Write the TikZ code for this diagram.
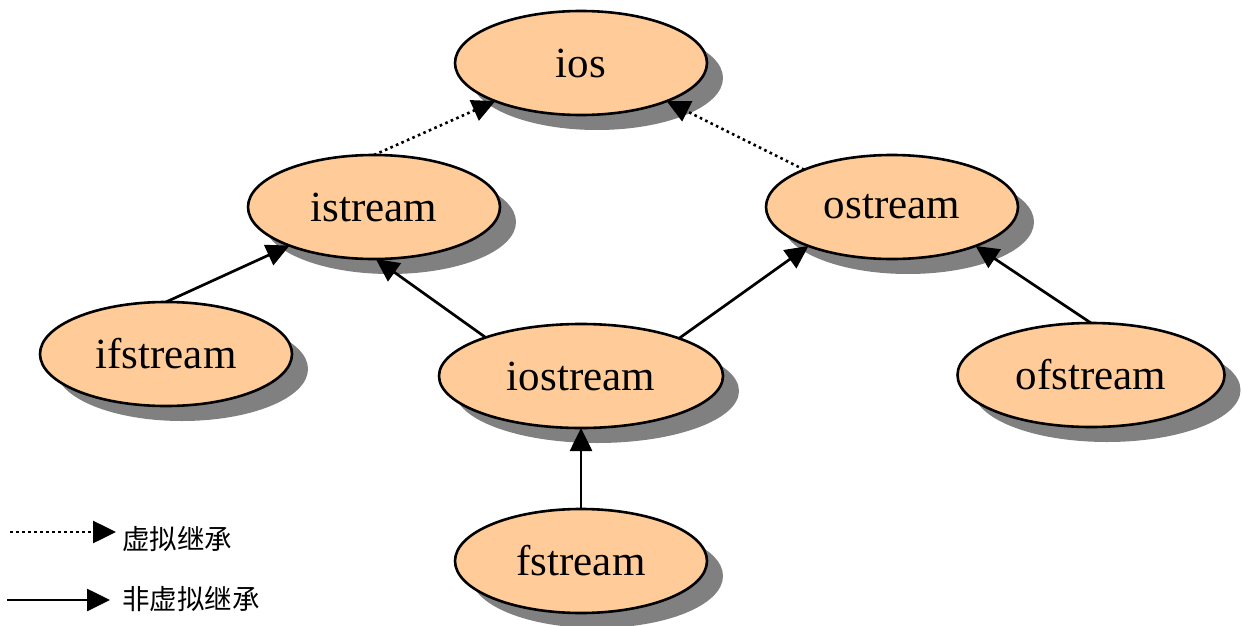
\documentclass[tikz,border=0pt]{standalone}
\usepackage{fontspec}
\setmainfont{Liberation Serif}
\newfontfamily\cjk{Noto Sans CJK SC}
\usetikzlibrary{shapes.geometric,arrows.meta,shadows}
\definecolor{peach}{HTML}{FFCC99}
\definecolor{shadowgray}{HTML}{808080}
\tikzset{
  cls/.style={ellipse, draw=black, fill=peach, line width=2.6pt, inner sep=0pt, outer sep=0pt,
    minimum width=#1, minimum height=104pt,
    font=\fontsize{43}{50}\selectfont,
    general shadow={fill=shadowgray, shadow xshift=16pt, shadow yshift=-15pt}},
  cls/.default=252pt,
  inh/.style={line width=2.7pt, -{Triangle[length=23pt,width=22pt]}},
  vinh/.style={line width=2.6pt, dash pattern=on 2.6pt off 3.4pt, -{Triangle[length=23pt,width=22pt]}},
  legtext/.style={anchor=west, inner sep=0pt, font=\cjk\fontsize{27.5}{32}\selectfont}
}
\begin{document}
\begin{tikzpicture}[x=1pt,y=-1pt]
\useasboundingbox (0,0) rectangle (1242,626);
\node[cls] (ios) at (581,63) {ios};
\node[cls] (istream) at (374,207) {istream};
\node[cls] (ostream) at (892,207) {ostream};
\node[cls] (ifstream) at (166,354) {ifstream};
\node[cls=284pt] (iostream) at (581,376) {iostream};
\node[cls=267pt] (ofstream) at (1091,375) {ofstream};
\node[cls] (fstream) at (581,561) {fstream};

\draw[vinh] (istream.north) -- (ios);
\draw[vinh] (ostream.157) -- (ios.336);
\draw[inh] (ifstream.north) -- (istream);
\draw[inh] (iostream.158) -- (istream.272);
\draw[inh] (iostream.21) -- (ostream.205);
\draw[inh] (ofstream.north) -- (ostream.335);
\draw[inh] (fstream.north) -- (iostream.south);

\coordinate (l1s) at (10,532);
\coordinate (l1e) at (116,532);
\coordinate (l2s) at (7,600);
\coordinate (l2e) at (110,600);
\draw[vinh] (l1s) -- (l1e);
\draw[inh] (l2s) -- (l2e);
\node[legtext] (t1) at (122,539) {虚拟继承};
\node[legtext] (t2) at (122,599) {非虚拟继承};
\end{tikzpicture}
\end{document}
